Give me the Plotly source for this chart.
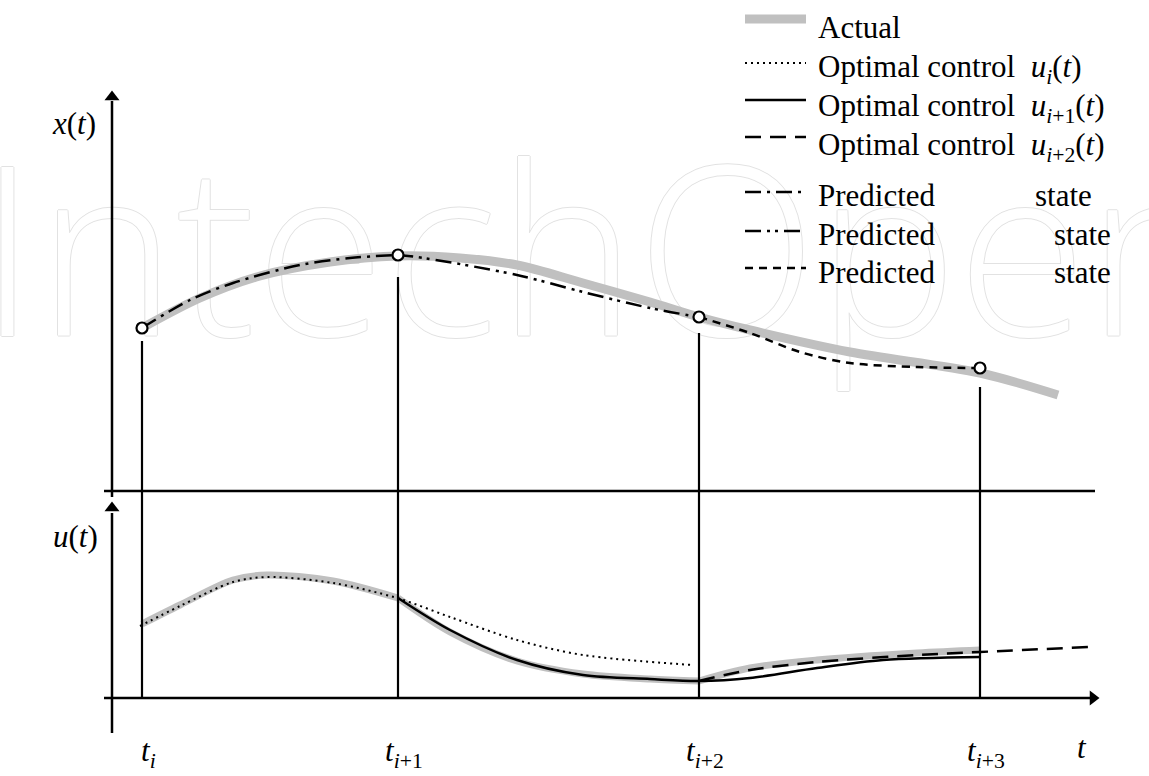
import plotly.graph_objects as go

W, H = 1149, 776
FONT = "Liberation Serif, Times New Roman, serif"
GRAY = "#c0c0c0"
BLACK = "#000000"

# ---- time axis: sampling instants and their labels ----
t_samples = [142, 398, 699, 980]
t_labels = [
    "<i>t</i><sub><i>i</i></sub>",
    "<i>t</i><sub><i>i</i>+1</sub>",
    "<i>t</i><sub><i>i</i>+2</sub>",
    "<i>t</i><sub><i>i</i>+3</sub>",
]

# ---- state x(t) ----
x_actual_t = [142, 200, 260, 330, 397, 460, 517, 583, 650, 699, 750, 850, 980, 1058]
x_actual = [163, 193, 215, 229, 235, 233, 226, 208, 189, 174, 161, 139, 118, 96]

x_measured = [163, 236, 174, 123]          # state measured at each sampling instant

pred1_t = [142, 190, 233, 300, 350, 397]
pred1_x = [163, 191, 208, 226, 233, 236]
pred2_t = [397, 417, 517, 583, 650, 699]
pred2_x = [236, 234, 216, 199, 183, 174]
pred3_t = [699, 750, 800, 850, 917, 980]
pred3_x = [174, 158, 139, 128, 124, 123]

stem_top = [150, 214, 158, 104]             # upper end of the sampling-instant markers

# ---- control u(t) ----
ui_t = [140, 180, 233, 267, 333, 397, 450, 517, 583, 693]
ui_u = [72, 92, 116, 121, 115, 100, 81, 58, 43, 33]
ui1_t = [398, 450, 517, 583, 650, 699, 750, 817, 883, 980]
ui1_u = [100, 68, 38, 23, 19, 17, 20, 30, 38, 41]
ui2_t = [699, 750, 817, 917, 980, 1088]
ui2_u = [17, 28, 36, 43, 46, 51]

u_act1_t = [142, 180, 233, 267, 333, 398]
u_act1_u = [74, 93, 118, 123, 117, 100]
u_act2_t = [398, 450, 517, 583, 650, 699]
u_act2_u = [100, 66, 37, 24, 19, 17]
u_act3_t = [699, 750, 817, 917, 980]
u_act3_u = [17, 30, 38, 45, 48]

# ---- legend ----
legend_names = [
    "Actual",
    "Optimal control&nbsp;&nbsp;<i>u</i><sub><i>i</i></sub>(<i>t</i>)",
    "Optimal control&nbsp;&nbsp;<i>u</i><sub><i>i</i>+1</sub>(<i>t</i>)",
    "Optimal control&nbsp;&nbsp;<i>u</i><sub><i>i</i>+2</sub>(<i>t</i>)",
    "Predicted",
    "Predicted",
    "Predicted",
]
legend_key_y = [472, 428, 391, 354, 299, 260, 223]
legend_text_y = [464, 422, 383, 344, 296, 257, 219]
legend_state_x = [None, None, None, None, 1033, 1052, 1052]

DOT = "2px,4px"
DASH_U2 = "16px,9px"
DASHDOT = "16px,6px,3px,6px"
DASHDOTDOT = "16px,6px,3px,5px,3px,6px"
SHORTDASH = "8px,6px"

legend_styles = [
    dict(color=GRAY, width=9, dash="solid"),
    dict(color=BLACK, width=2, dash=DOT),
    dict(color=BLACK, width=2.5, dash="solid"),
    dict(color=BLACK, width=2.5, dash=DASH_U2),
    dict(color=BLACK, width=2.5, dash=DASHDOT),
    dict(color=BLACK, width=2.5, dash=DASHDOTDOT),
    dict(color=BLACK, width=2.5, dash=SHORTDASH),
]

fig = go.Figure()

# watermark (outlined lettering behind the curves)
OUTLINE = "#e2e2e2"
fig.add_trace(go.Scatter(
    x=[602], y=[214], mode="text", text=["IntechOpen"], xaxis="x", yaxis="y",
    textfont=dict(family="Open Sans", size=236, weight=300, color="white",
                  shadow=f"1px 0 0 {OUTLINE}, -1px 0 0 {OUTLINE}, 0 1px 0 {OUTLINE}, 0 -1px 0 {OUTLINE}"),
    cliponaxis=False, hoverinfo="skip", showlegend=False,
))


def curve(t, v, line, yaxis="y", shape="spline"):
    fig.add_trace(go.Scatter(
        x=t, y=v, mode="lines", yaxis=yaxis, hoverinfo="skip", showlegend=False,
        line=dict(shape=shape, smoothing=0.9, **line),
    ))


# state panel
curve(x_actual_t, x_actual, dict(color=GRAY, width=9))
curve(pred1_t, pred1_x, dict(color=BLACK, width=2.5, dash=DASHDOT))
curve(pred2_t, pred2_x, dict(color=BLACK, width=2.5, dash=DASHDOTDOT))
curve(pred3_t, pred3_x, dict(color=BLACK, width=2.5, dash=SHORTDASH))

# control panel
for tt, uu in [(u_act1_t, u_act1_u), (u_act2_t, u_act2_u), (u_act3_t, u_act3_u)]:
    curve(tt, uu, dict(color=GRAY, width=7), yaxis="y2")
curve(ui_t, ui_u, dict(color=BLACK, width=2, dash=DOT), yaxis="y2")
curve(ui1_t, ui1_u, dict(color=BLACK, width=2.5), yaxis="y2")
curve(ui2_t, ui2_u, dict(color=BLACK, width=2.5, dash=DASH_U2), yaxis="y2")

# legend keys
for ky, st in zip(legend_key_y, legend_styles):
    curve([745, 806], [ky, ky], st, shape="linear")

shapes = []
# sampling-instant markers spanning both panels
for ts, top in zip(t_samples, stem_top):
    shapes.append(dict(type="line", xref="x", yref="y", x0=ts, x1=ts, y0=top, y1=0,
                       line=dict(color=BLACK, width=2.2)))
    shapes.append(dict(type="line", xref="x", yref="y2", x0=ts, x1=ts, y0=207, y1=0,
                       line=dict(color=BLACK, width=2.2)))

# axes
shapes += [
    dict(type="line", xref="x", yref="y", x0=112, x1=112, y0=390, y1=-6,
         line=dict(color=BLACK, width=2.5)),
    dict(type="line", xref="x", yref="y2", x0=112, x1=112, y0=185, y1=-35,
         line=dict(color=BLACK, width=2.5)),
    dict(type="line", xref="x", yref="y", x0=104, x1=1095, y0=0, y1=0,
         line=dict(color=BLACK, width=2.5)),
    dict(type="line", xref="x", yref="y2", x0=104, x1=1090, y0=0, y1=0,
         line=dict(color=BLACK, width=2.5)),
]

# measured states
fig.add_trace(go.Scatter(
    x=t_samples, y=x_measured, mode="markers", hoverinfo="skip", showlegend=False,
    marker=dict(symbol="circle", size=11, color="white", line=dict(color=BLACK, width=2.2)),
))

# arrow heads
fig.add_trace(go.Scatter(x=[112], y=[394], mode="markers", yaxis="y", hoverinfo="skip",
                         showlegend=False, marker=dict(symbol="triangle-up", size=13, color=BLACK)))
fig.add_trace(go.Scatter(x=[112], y=[190], mode="markers", yaxis="y2", hoverinfo="skip",
                         showlegend=False, marker=dict(symbol="triangle-up", size=13, color=BLACK)))
fig.add_trace(go.Scatter(x=[1093], y=[0], mode="markers", yaxis="y2", hoverinfo="skip",
                         showlegend=False, marker=dict(symbol="triangle-right", size=13, color=BLACK)))

ann = []
txt = dict(family=FONT, size=31, color=BLACK)
for ts, lab in zip(t_samples, t_labels):
    ann.append(dict(x=ts + 6, y=-55, xref="x", yref="y2", text=lab, showarrow=False,
                    xanchor="center", yanchor="middle", font=txt))
ann.append(dict(x=1082, y=-49, xref="x", yref="y2", text="<i>t</i>", showarrow=False,
                xanchor="center", yanchor="middle", font=txt))
ann.append(dict(x=98, y=368, xref="x", yref="y", text="<i>x</i>(<i>t</i>)", showarrow=False,
                xanchor="right", yanchor="middle", font=txt))
ann.append(dict(x=100, y=162, xref="x", yref="y2", text="<i>u</i>(<i>t</i>)", showarrow=False,
                xanchor="right", yanchor="middle", font=txt))

for name, ty, sx in zip(legend_names, legend_text_y, legend_state_x):
    ann.append(dict(x=816, y=ty, xref="x", yref="y", text=name, showarrow=False,
                    xanchor="left", yanchor="middle", font=txt))
    if sx is not None:
        ann.append(dict(x=sx, y=ty, xref="x", yref="y", text="state", showarrow=False,
                        xanchor="left", yanchor="middle", font=txt))

split = 285 / H
pad = 10 / H
fig.update_layout(
    width=W, height=H,
    margin=dict(l=0, r=0, t=0, b=0),
    paper_bgcolor="white", plot_bgcolor="rgba(0,0,0,0)",
    showlegend=False,
    xaxis=dict(range=[0, W], visible=False, fixedrange=True),
    yaxis=dict(domain=[split - pad, 1], range=[-10, 491], visible=False, fixedrange=True),
    yaxis2=dict(domain=[0, split + pad], range=[-78, 217], visible=False, fixedrange=True),
    shapes=shapes,
    annotations=ann,
)

fig.write_html("out.html")
